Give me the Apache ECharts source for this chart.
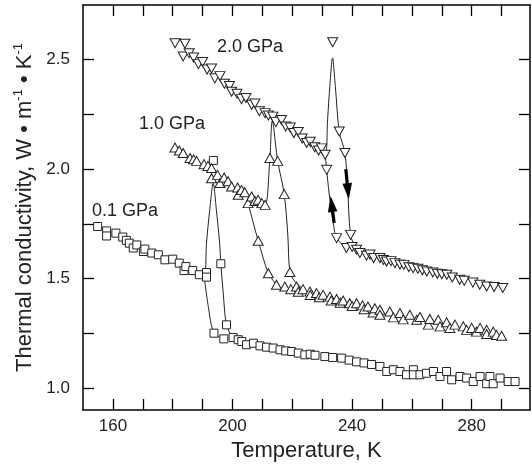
<!DOCTYPE html>
<html>
<head>
<meta charset="utf-8">
<script src="https://cdn.jsdelivr.net/npm/echarts@6/dist/echarts.min.js"></script>
<style>html,body{margin:0;padding:0;background:#fff}#c{width:532px;height:470px}</style>
</head>
<body>
<div id="c"></div>
<script>
// ---- data (Temperature K, thermal conductivity W m^-1 K^-1) ----
const xTicks = [160,170,180,190,200,210,220,230,240,250,260,270,280,290];
const xLabels = [160,200,240,280];
const yTicks = [1.0,1.25,1.5,1.75,2.0,2.25,2.5];
const yLabels = [1.0,1.5,2.0,2.5];

const p01Markers = [
 [154.9,1.738],[157.9,1.718],[157.9,1.695],[161,1.708],[163.3,1.69],[164.5,1.675],[165.5,1.662],[166.8,1.64],
 [168,1.654],[170.2,1.624],[170.7,1.635],[173,1.617],[175.2,1.609],[177.4,1.586],[180,1.589],[182.2,1.571],
 [183.8,1.537],[184.4,1.555],[186.7,1.537],[188.9,1.518],[191.3,1.528],[191.3,1.507],
 [193.6,2.04],[196.1,1.568],[198,1.289],[193.8,1.251],
 [197.1,1.225],[200.2,1.231],[201.9,1.221],[203.1,1.213],[204.7,1.198],[207,1.205],[209.2,1.193],[211.4,1.187],
 [213.6,1.183],[215.9,1.175],[217.8,1.17],[219.8,1.167],[222,1.16],[224.2,1.152],[226,1.155],[227.6,1.15],
 [230.9,1.144],[233.5,1.14],[236.5,1.137],[239,1.128],[241.5,1.12],[244,1.115],[246.5,1.108],[249.3,1.099],
 [251.6,1.076],[253.8,1.084],[256,1.076],[258.2,1.061],[260.5,1.084],[260.5,1.061],[262.7,1.061],[264.9,1.068],
 [267.2,1.076],[269.4,1.053],[271.6,1.076],[273.3,1.038],[276.1,1.053],[278.3,1.046],[280.5,1.03],[282.8,1.053],
 [285,1.02],[286.1,1.053],[287.2,1.02],[289.5,1.046],[292.2,1.03],[294.5,1.03]
];
const p10Markers = [
 [180.75,2.099],[182.2,2.085],[183.5,2.074],[185.8,2.051],[187,2.045],[188,2.038],[190.5,2.023],[191.8,2.015],
 [193,2.005],[193,1.959],[195,1.974],[195.8,1.937],[197.2,1.962],[198.5,1.945],[199.7,1.921],[201.7,1.916],
 [201.9,1.883],[203,1.905],[204.1,1.895],[205.2,1.845],[206.4,1.875],[207.5,1.855],[208.6,1.86],[209.8,1.845],
 [210.9,1.837],
 [212.5,2.051],[215.1,2.038],[217.3,1.886],[219.2,1.53],[208.6,1.673],[212,1.525],
 [214.7,1.472],[217.5,1.464],[219.5,1.452],[221.4,1.464],[222,1.44],[223.6,1.452],[225.9,1.441],[226,1.425],
 [228.1,1.434],[229,1.415],[230.3,1.426],[232.6,1.418],[233,1.40],[234.8,1.407],[236,1.39],[237,1.40],
 [239.2,1.388],[240,1.375],[241.5,1.388],[243.5,1.378],[244,1.36],[245.3,1.373],[247,1.345],[247.6,1.365],
 [249.3,1.358],[249.3,1.335],[252.6,1.35],[253.8,1.323],[256,1.343],[257.1,1.314],[259.3,1.335],[261.6,1.312],
 [262.7,1.325],[265.5,1.29],[266,1.316],[268.8,1.312],[269.4,1.282],[271.6,1.301],[272.7,1.275],[274.4,1.29],
 [277.2,1.282],[278.3,1.266],[280,1.275],[281.6,1.258],[282.8,1.275],[285,1.266],[285,1.247],[287.2,1.258],
 [288.3,1.243],[290,1.239]
];
const p20Markers = [
 [180.8,2.575],[184.1,2.573],[183.5,2.515],[185.5,2.53],[187,2.51],[188.6,2.48],[190,2.49],[191.5,2.455],
 [193,2.46],[194.1,2.415],[195.8,2.425],[197.3,2.39],[199,2.38],[199.7,2.354],[201.5,2.345],[203,2.32],
 [204.5,2.325],[206.4,2.294],[207.5,2.3],[209,2.265],[210.9,2.256],[212,2.245],[213.5,2.24],[214.5,2.215],
 [216.4,2.225],[217.8,2.195],[219.3,2.19],[220.5,2.165],[222,2.17],[223.3,2.14],[224.8,2.12],[226,2.125],
 [227.5,2.1],[228.8,2.085],[229.8,2.095],[231,2.066],
 [233.5,2.58],[235.7,2.172],[237.6,2.074],[231.5,1.997],[234.8,1.685],[239.5,1.70],
 [238.1,1.64],[240,1.645],[241.5,1.632],[242.6,1.617],[244.8,1.605],[246,1.61],[247.2,1.594],[249.3,1.594],
 [250.5,1.585],[251.5,1.578],[253,1.58],[254.3,1.571],[256,1.565],[257.3,1.563],[259,1.552],[260.4,1.548],
 [262,1.545],[263.5,1.538],[265,1.533],[267,1.528],[268.5,1.522],[270,1.52],[271.7,1.518],[273.5,1.505],
 [276,1.495],[277.5,1.49],[280.4,1.482],[282.7,1.472],[285,1.464],[287.5,1.462],[290.4,1.457]
];
// traced connecting lines (heating and cooling branches around the transitions)
const p01Heat = [[188.9,1.518],[190.6,1.503],[191.3,1.662],[192.4,1.815],[193.55,1.936],[194.6,1.815],[195.7,1.662],[196.1,1.568],[196.9,1.434],[198,1.289],[200.2,1.231],[203.1,1.213]];
const p01Cool = [[197.1,1.225],[193.8,1.251],[191.9,1.373],[190.6,1.503]];
const p10Heat = [[208.6,1.86],[210.9,1.837],[212.5,2.051],[213.3,2.221],[215.1,2.038],[217.3,1.886],[218.5,1.70],[219.2,1.53],[220.9,1.487],[223.6,1.452]];
const p10Cool = [[214.7,1.472],[212,1.525],[208.6,1.673],[205.2,1.845]];
const p20Heat = [[228.8,2.085],[231,2.066],[231.8,2.226],[232.55,2.378],[233.45,2.508],[234.4,2.378],[235.7,2.172],[237.6,2.074],[238.5,1.92],[239.5,1.70],[241.5,1.632],[242.6,1.617]];
const p20Cool = [[238.1,1.64],[234.8,1.685],[233.9,1.738],[232.3,1.891],[231.5,1.997],[231,2.066]];
// arrows: [T start, k start, T tip, k tip]
const arrows = [[234.0,1.754,232.8,1.878],[237.9,2.0,238.9,1.863]];
const pressureLabels = ['0.1 GPa','1.0 GPa','2.0 GPa'];

const FONT = '"Liberation Sans", Arial, Helvetica, sans-serif';
const INK = '#222';
const chart = echarts.init(document.getElementById('c'));

function markerSeries(data, symbol, size, rotate) {
  return {type:'scatter', data, symbol, symbolSize:size, symbolRotate:rotate||0, z:3,
    itemStyle:{color:'#fff', borderColor:INK, borderWidth:1, opacity:1}, silent:true};
}
function lineSeries(data) {
  return {type:'line', data, smooth:0.3, symbol:'none', z:2, lineStyle:{color:INK, width:1}, silent:true};
}
function renderArrow(params, api) {
  const a = api.coord([api.value(0), api.value(1)]);
  const b = api.coord([api.value(2), api.value(3)]);
  const dx=b[0]-a[0], dy=b[1]-a[1], len=Math.hypot(dx,dy);
  const ux=dx/len, uy=dy/len, px=-uy, py=ux, hl=16, hw=4.8;
  const base=[b[0]-ux*hl, b[1]-uy*hl];
  return {type:'group', children:[
    {type:'line', shape:{x1:a[0],y1:a[1],x2:base[0]+ux*2,y2:base[1]+uy*2}, style:{stroke:'#000', lineWidth:3.2}},
    {type:'polygon', shape:{points:[b,[base[0]+px*hw,base[1]+py*hw],[base[0]-px*hw,base[1]-py*hw]]}, style:{fill:'#000'}}
  ]};
}
const axisLineStyle = {lineStyle:{color:'#000', width:1.5}};
const tickStyle = {inside:true, length:11, lineStyle:{color:'#000', width:1.3}};

chart.setOption({
  animation:false,
  backgroundColor:'#fff',
  textStyle:{fontFamily:FONT},
  grid:{left:83, right:2, top:5, bottom:60, containLabel:false},
  xAxis:[
    {type:'value', min:150, max:299.5, position:'bottom', axisLine:axisLineStyle,
     axisTick:Object.assign({customValues:xTicks}, tickStyle), splitLine:{show:false},
     axisLabel:{customValues:xLabels, fontSize:17, color:INK, margin:8, fontFamily:FONT},
     name:'Temperature, K', nameLocation:'middle', nameGap:30,
     nameTextStyle:{fontSize:22, color:INK, fontFamily:FONT}},
    {type:'value', min:150, max:299.5, position:'top', axisLine:axisLineStyle,
     axisTick:Object.assign({customValues:xTicks}, tickStyle), axisLabel:{show:false}, splitLine:{show:false}}
  ],
  yAxis:[
    {type:'value', min:0.9, max:2.75, position:'left', axisLine:axisLineStyle,
     axisTick:Object.assign({customValues:yTicks}, tickStyle), splitLine:{show:false},
     axisLabel:{customValues:yLabels, fontSize:17, color:INK, margin:13, fontFamily:FONT,
       formatter:v=>Number(v).toFixed(1)},
     name:'{a|Thermal conductivity, W • m}{s|-1}{a| • K}{s|-1}', nameLocation:'middle', nameGap:42,
     nameTextStyle:{color:INK, fontFamily:FONT, fontSize:22,
       rich:{a:{fontSize:22, color:INK, fontFamily:FONT, lineHeight:26},
             s:{fontSize:13, color:INK, fontFamily:FONT, verticalAlign:'top', lineHeight:15}}}},
    {type:'value', min:0.9, max:2.75, position:'right', axisLine:axisLineStyle,
     axisTick:Object.assign({customValues:yTicks}, tickStyle), axisLabel:{show:false}, splitLine:{show:false}}
  ],
  graphic:[
    {type:'text', left:92, top:202, style:{text:pressureLabels[0], font:'18px '+FONT, fill:INK}},
    {type:'text', left:139, top:115, style:{text:pressureLabels[1], font:'18px '+FONT, fill:INK}},
    {type:'text', left:217, top:38, style:{text:pressureLabels[2], font:'18px '+FONT, fill:INK}}
  ],
  series:[
    lineSeries(p01Heat), lineSeries(p01Cool),
    lineSeries(p10Heat), lineSeries(p10Cool),
    lineSeries(p20Heat), lineSeries(p20Cool),
    markerSeries(p01Markers, 'rect', 8),
    markerSeries(p10Markers, 'triangle', [10,9]),
    markerSeries(p20Markers, 'triangle', [10,9], 180),
    {type:'custom', data:arrows, renderItem:renderArrow, z:4, silent:true,
     encode:{x:[0,2], y:[1,3]}}
  ]
});
</script>
</body>
</html>
